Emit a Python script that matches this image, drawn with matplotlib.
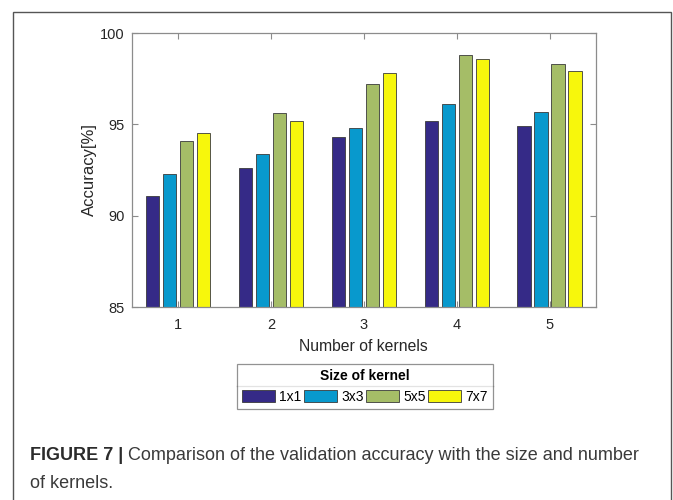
import matplotlib.pyplot as plt
import numpy as np
from matplotlib.patches import Rectangle
from matplotlib.lines import Line2D

plt.rcParams['font.family'] = ['Liberation Sans', 'DejaVu Sans']

# accuracy for each number of kernels, one list per kernel size
kernels = [1, 2, 3, 4, 5]
sizes = ['1x1', '3x3', '5x5', '7x7']
acc_1x1 = [91.1, 92.6, 94.3, 95.2, 94.9]
acc_3x3 = [92.3, 93.4, 94.8, 96.1, 95.7]
acc_5x5 = [94.1, 95.6, 97.2, 98.8, 98.3]
acc_7x7 = [94.5, 95.2, 97.8, 98.6, 97.9]
colors = ['#352a87', '#0899cd', '#a5bd67', '#f7f70c']

fig = plt.figure(figsize=(6.73, 5), dpi=100)

# outer frame round the figure panel
fig.add_artist(Rectangle((12.5 / 673, -0.05), (670.5 - 12.5) / 673, 1.05 - 12.5 / 500,
                         transform=fig.transFigure, fill=False,
                         edgecolor='#555555', linewidth=1.0))

ax = fig.add_axes([131.5 / 673, 193 / 500, 464.5 / 673, 274 / 500])

x = np.array(kernels)
slot = 0.183
w = 0.143
bars = []
for j, vals in enumerate([acc_1x1, acc_3x3, acc_5x5, acc_7x7]):
    b = ax.bar(x + (j - 1.5) * slot, vals, width=w, color=colors[j],
               edgecolor='#3a3a3a', linewidth=0.6, label=sizes[j])
    bars.append(b)

ax.set_xlim(0.5, 5.5)
ax.set_ylim(85, 100)
ax.set_xticks(kernels)
ax.set_yticks([85, 90, 95, 100])
ax.tick_params(direction='in', length=4, top=True, right=True,
               color='#8c8c8c', labelcolor='#262626', labelsize=10.5, pad=5)
ax.tick_params(axis='x', pad=8)
for s in ax.spines.values():
    s.set_color('#8c8c8c')
    s.set_linewidth(0.9)
ax.set_xlabel('Number of kernels', fontsize=11.3, color='#262626', labelpad=5)
ax.set_ylabel('Accuracy[%]', fontsize=12, color='#262626', labelpad=2)

leg = fig.legend(handles=bars, ncol=4, loc='upper center',
                 bbox_to_anchor=(365 / 673, 1 - 364 / 500),
                 fontsize=10, title='Size of kernel',
                 title_fontproperties={'weight': 'bold', 'size': 10},
                 frameon=True, fancybox=False, edgecolor='#777777',
                 handlelength=2.35, handleheight=1.0, handletextpad=0.3,
                 columnspacing=0.2, borderpad=0.35, borderaxespad=0)
leg.get_frame().set_linewidth(0.9)

# line between the legend title and its entries
fig.canvas.draw()
lb = leg.get_window_extent()
tb = leg.get_title().get_window_extent()
ysep = (tb.y0 - 3) / fig.bbox.height
fig.add_artist(Line2D([lb.x0 / fig.bbox.width, lb.x1 / fig.bbox.width], [ysep, ysep],
                      transform=fig.transFigure, color='#777777', linewidth=0.9))

# caption
cap_y = 1 - 456 / 500
t1 = fig.text(30.5 / 673, cap_y, 'FIGURE 7 |', fontsize=13, fontweight='bold',
              color='#2b2b2b', va='center')
fig.canvas.draw()
bb = t1.get_window_extent()
fig.text((bb.x1 + 4) / 673, cap_y,
         'Comparison of the validation accuracy with the size and number',
         fontsize=13, color='#3a3a3a', va='center')
fig.text(30.5 / 673, 1 - 483 / 500, 'of kernels.', fontsize=13,
         color='#3a3a3a', va='center')

fig.savefig('out.png', dpi=100)
